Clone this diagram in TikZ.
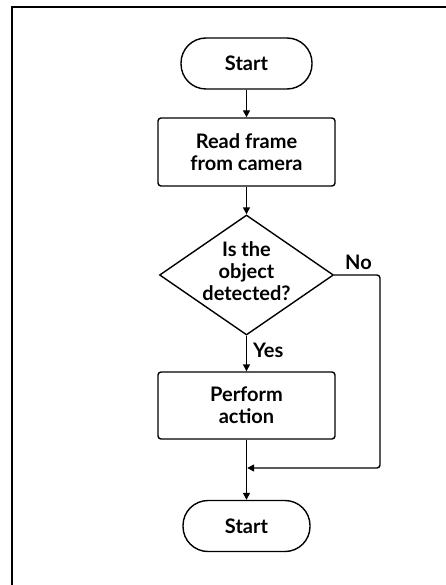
\documentclass[tikz,border=0pt]{standalone}
\usepackage{fontspec}
\setmainfont{Lato}
\usetikzlibrary{shapes.geometric,arrows.meta}
\begin{document}
\begin{tikzpicture}[x=1pt,y=-1pt,
  font=\fontsize{20}{22}\selectfont\bfseries,
  line width=1.4pt,
  flow/.style={-{Triangle[length=7pt,width=7pt]}},
  terminal/.style={draw,rounded corners=25pt,minimum width=#1,minimum height=51pt,inner sep=0pt,align=center},
  process/.style={draw,rounded corners=3pt,minimum width=177pt,minimum height=68pt,inner sep=0pt,align=center},
  decision/.style={draw,diamond,aspect=1.45,minimum width=174pt,minimum height=120pt,inner sep=0pt,align=center},
  lbl/.style={inner sep=0pt}]
  % page size and the frame along the top and left
  \useasboundingbox (0,0) rectangle (446,585);
  \fill[white] (0,0) rectangle (446,585);
  \draw[line width=2.4pt] (446,7) -- (12,7) -- (12,585);

  \node[terminal=131pt] (start) at (246.5,63.5) {Start};
  \node[process] (read) at (246.5,152) {Read frame\\from camera};
  \node[decision] (detect) at (246.5,275) {};
  \node[align=center,inner sep=0pt] (dtext) at (246.5,271) {Is the\\object\\detected?};
  \node[process,minimum height=67pt] (act) at (246.5,405.5) {Perform\\action};
  \node[terminal=127pt] (stop) at (246.5,526) {Start};

  \coordinate (join) at (246.5,468);
  \coordinate (turn) at (380,275);

  \draw[flow] (start) -- (read);
  \draw[flow] (read) -- (detect.north);
  \draw[flow] (detect.south) -- node[lbl,right=6pt,pos=0.42] (yes) {Yes} (act);
  \draw (act) -- (join);
  \draw[flow] (join) -- (stop);
  \draw[flow,rounded corners=3pt] (detect.east) -- (turn) |- ([xshift=0.7pt]join);
  \node[lbl] (no) at (358.5,262) {No};
\end{tikzpicture}
\end{document}
